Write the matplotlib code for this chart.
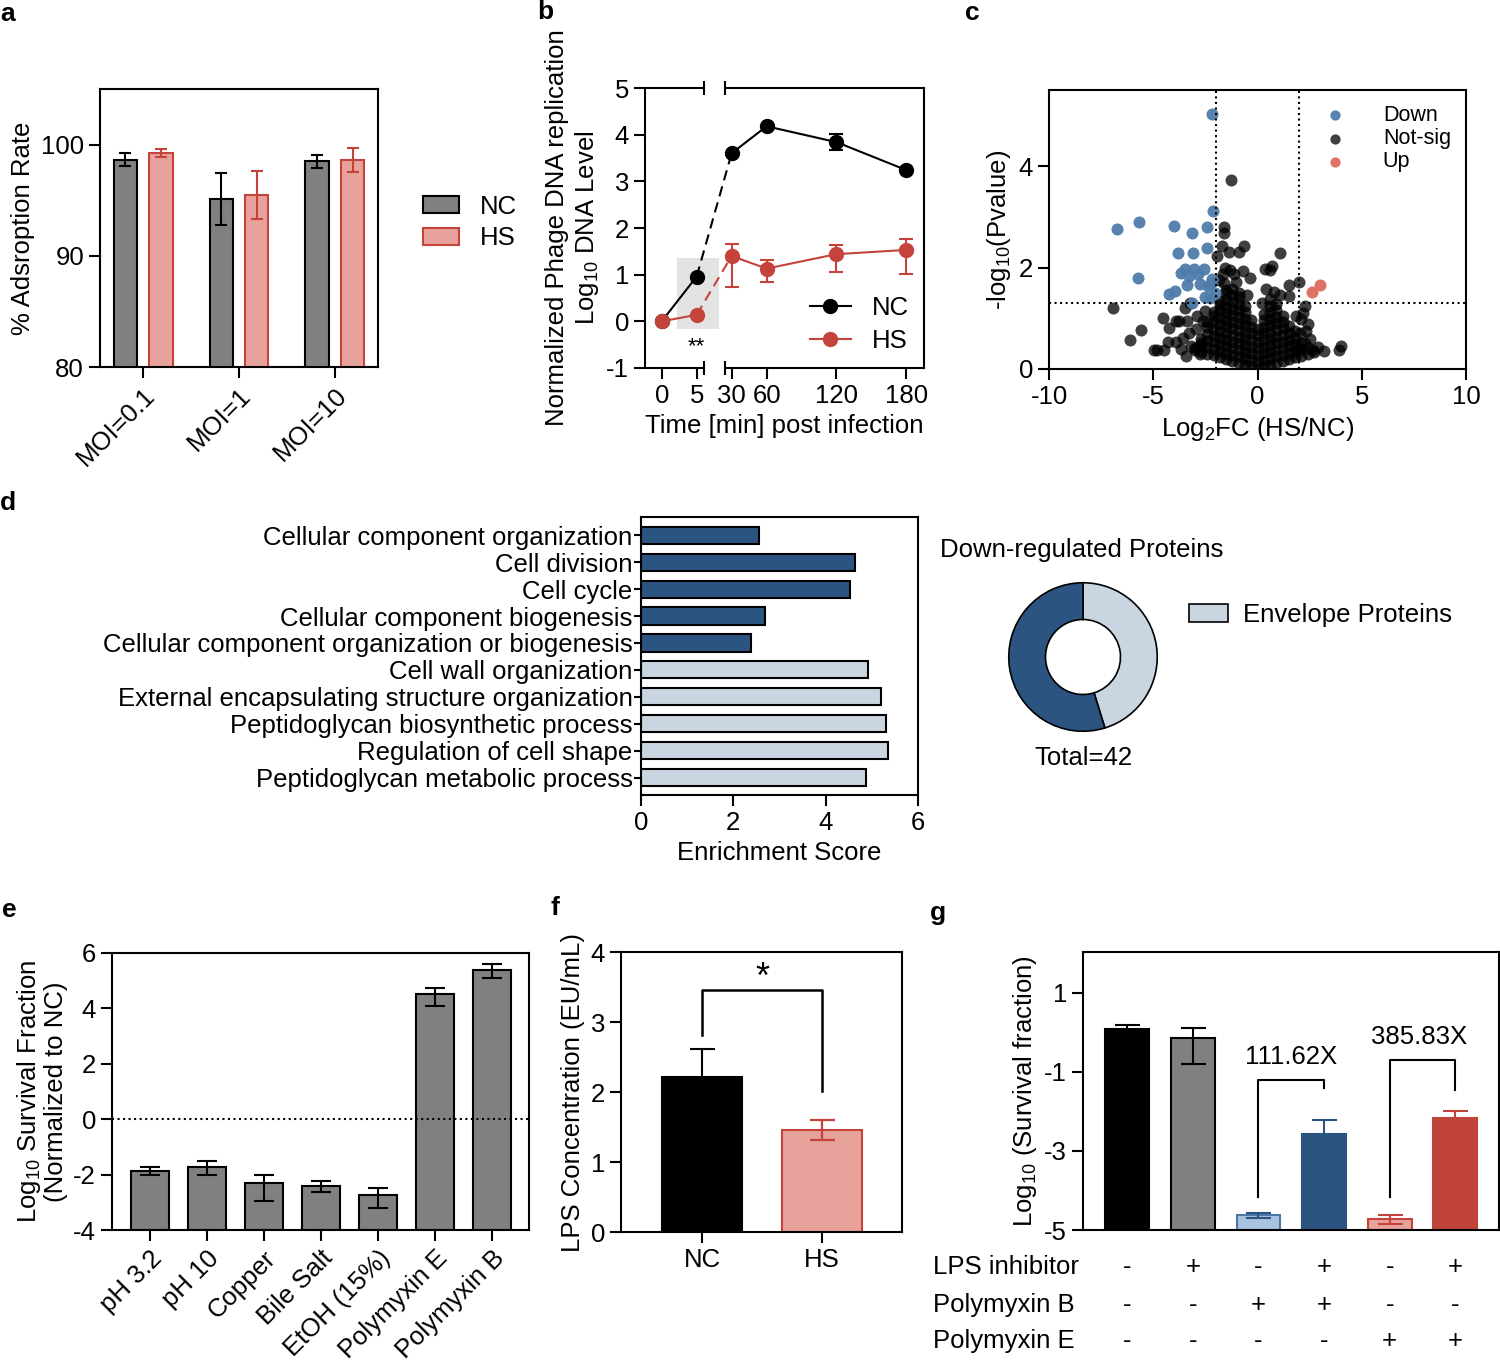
import numpy as np
import matplotlib
matplotlib.use("Agg")
import matplotlib.pyplot as plt
from matplotlib.patches import Rectangle, Patch
from matplotlib.lines import Line2D
from matplotlib.transforms import blended_transform_factory

plt.rcParams['font.family'] = ['Liberation Sans', 'DejaVu Sans']
plt.rcParams['mathtext.fontset'] = 'custom'
plt.rcParams['mathtext.rm'] = 'Liberation Sans'
plt.rcParams['mathtext.it'] = 'Liberation Sans:italic'
plt.rcParams['mathtext.default'] = 'regular'
plt.rcParams['axes.unicode_minus'] = False
plt.rcParams['font.size'] = 18.5
plt.rcParams['axes.linewidth'] = 1.5
plt.rcParams['xtick.major.width'] = 1.5
plt.rcParams['ytick.major.width'] = 1.5

GRAY = '#808080'
PINK = '#e7a29b'
RED = '#c4433a'
DBLUE = '#2b5580'
LBLUE = '#c9d6e2'

# ---- data ----
# a
moi = ['MOI=0.1', 'MOI=1', 'MOI=10']
a_nc = [98.64, 95.09, 98.49]
a_nc_err = [0.6, 2.35, 0.55]
a_hs = [99.25, 95.48, 98.6]
a_hs_err = [0.33, 2.14, 1.08]

# b
b_t = [0, 5, 30, 60, 120, 180]
b_nc = [0, 0.96, 3.6, 4.18, 3.84, 3.24]
b_nc_err = [0, 0, 0, 0, 0.17, 0]
b_hs = [0, 0.14, 1.4, 1.13, 1.44, 1.53]
b_hs_lo = [0, 0, 0.67, 0.29, 0.38, 0.51]
b_hs_hi = [0, 0, 0.25, 0.19, 0.19, 0.23]

# c
down_x = [-2.2, -2.15, -6.74, -5.70, -4.02, -3.16, -2.43, -2.40, -3.83, -3.07,
          -5.72, -3.67, -3.50, -3.05, -2.55, -3.27, -2.86, -2.20, -2.25, -3.38,
          -2.78, -2.36, -3.97, -4.26, -2.03, -2.50, -2.28, -3.16]
down_y = [5.02, 3.11, 2.76, 2.90, 2.81, 2.69, 2.79, 2.38, 2.28, 2.28,
          1.80, 1.89, 1.98, 1.98, 1.98, 1.83, 1.87, 1.78, 1.70, 1.65,
          1.67, 1.64, 1.54, 1.47, 1.50, 1.42, 1.39, 1.31]
up_x = [2.63, 2.98]
up_y = [1.52, 1.65]
# dense core of the volcano, read column by column
core_x = [-3.0,
          -2.7, -2.7, -2.7,
          -2.4, -2.4, -2.4, -2.4, -2.4, -2.4,
          -2.1, -2.1, -2.1, -2.1, -2.1, -2.1, -2.1, -2.1,
          -1.8, -1.8, -1.8, -1.8, -1.8, -1.8, -1.8, -1.8, -1.8, -1.8,
          -1.5, -1.5, -1.5, -1.5, -1.5, -1.5, -1.5, -1.5, -1.5, -1.5, -1.5, -1.5,
          -1.2, -1.2, -1.2, -1.2, -1.2, -1.2, -1.2, -1.2, -1.2, -1.2, -1.2, -1.2,
          -0.9, -0.9, -0.9, -0.9, -0.9, -0.9, -0.9, -0.9, -0.9, -0.9, -0.9, -0.9,
          -0.6, -0.6, -0.6, -0.6, -0.6, -0.6, -0.6, -0.6, -0.6, -0.6,
          -0.3, -0.3, -0.3, -0.3, -0.3, -0.3, -0.3, -0.3,
          0.0, 0.0, 0.0, 0.0, 0.0, 0.0, 0.0,
          0.3, 0.3, 0.3, 0.3, 0.3, 0.3, 0.3, 0.3, 0.3,
          0.6, 0.6, 0.6, 0.6, 0.6, 0.6, 0.6, 0.6, 0.6, 0.6, 0.6,
          0.9, 0.9, 0.9, 0.9, 0.9, 0.9, 0.9, 0.9, 0.9, 0.9,
          1.2, 1.2, 1.2, 1.2, 1.2, 1.2, 1.2, 1.2,
          1.5, 1.5, 1.5, 1.5, 1.5, 1.5,
          1.8, 1.8, 1.8, 1.8, 1.8,
          2.1, 2.1, 2.1,
          2.4, 2.4,
          2.7]
core_y = [0.42,
          0.34, 0.47, 0.6,
          0.3, 0.43, 0.56, 0.69, 0.82, 0.92,
          0.27, 0.4, 0.53, 0.66, 0.79, 0.92, 1.05, 1.13,
          0.23, 0.36, 0.49, 0.62, 0.75, 0.88, 1.01, 1.14, 1.27, 1.35,
          0.19, 0.32, 0.45, 0.58, 0.71, 0.84, 0.97, 1.1, 1.23, 1.36, 1.49, 1.56,
          0.15, 0.28, 0.41, 0.54, 0.67, 0.8, 0.93, 1.06, 1.19, 1.32, 1.45, 1.58,
          0.12, 0.25, 0.38, 0.51, 0.64, 0.77, 0.9, 1.03, 1.16, 1.29, 1.42, 1.5,
          0.08, 0.21, 0.34, 0.47, 0.6, 0.73, 0.86, 0.99, 1.12, 1.25,
          0.05, 0.18, 0.31, 0.44, 0.57, 0.7, 0.83, 0.96,
          0.02, 0.15, 0.28, 0.41, 0.54, 0.67, 0.78,
          0.05, 0.18, 0.31, 0.44, 0.57, 0.7, 0.83, 0.96, 1.09,
          0.08, 0.21, 0.34, 0.47, 0.6, 0.73, 0.86, 0.99, 1.12, 1.25, 1.38,
          0.12, 0.25, 0.38, 0.51, 0.64, 0.77, 0.9, 1.03, 1.16, 1.28,
          0.15, 0.28, 0.41, 0.54, 0.67, 0.8, 0.93, 1.04,
          0.19, 0.32, 0.45, 0.58, 0.71, 0.84,
          0.23, 0.36, 0.49, 0.62, 0.74,
          0.26, 0.39, 0.52,
          0.3, 0.42,
          0.33]
# scattered not-significant points around the core
ns_x = [-1.29, -1.6, -1.6, -1.7, -1.95, -1.37, -0.91, -0.63, -1.54, -1.3,
        -1.65, -1.12, -0.68, -0.38, -1.62, -1.85, -1.05, -0.5,
        1.07, 0.69, 0.36, 0.61, 1.49, 1.98, 1.52, 0.40, 0.78, 2.26,
        2.1, 2.43, 2.02, 2.26, 2.89, 3.17, 2.68, 4.0, 3.92, 2.2, 2.5,
        1.85, 2.35, 1.1, 0.2, 2.0,
        -6.94, -4.55, -5.57, -6.12, -4.98, -4.81, -4.48, -4.31, -4.23, -3.9,
        -3.9, -3.65, -3.57, -3.4, -3.5, -3.22, -2.93, -3.0, -2.7, -3.3, -3.75,
        -2.6, -3.2, -2.9, -2.5, -3.45, -2.75]
ns_y = [3.73, 2.80, 2.68, 2.43, 2.22, 2.30, 2.31, 2.42, 2.00, 1.95,
        1.87, 1.87, 1.93, 1.80, 1.70, 1.75, 1.72, 1.45,
        2.28, 2.03, 1.97, 1.95, 1.65, 1.72, 1.44, 1.57, 1.52, 1.24,
        0.98, 0.88, 0.71, 0.51, 0.44, 0.35, 0.38, 0.45, 0.37, 1.1, 0.6,
        1.05, 0.75, 1.45, 1.3, 0.4,
        1.21, 1.0, 0.76, 0.57, 0.38, 0.38, 0.38, 0.53, 0.81, 0.94,
        0.53, 0.40, 0.61, 0.94, 1.21, 1.31, 0.78, 0.38, 0.51, 0.7, 0.95,
        0.95, 0.45, 1.05, 1.15, 0.25, 0.3]

# d
go_terms = ['Cellular component organization', 'Cell division', 'Cell cycle',
            'Cellular component biogenesis',
            'Cellular component organization or biogenesis',
            'Cell wall organization',
            'External encapsulating structure organization',
            'Peptidoglycan biosynthetic process', 'Regulation of cell shape',
            'Peptidoglycan metabolic process']
go_scores = [2.55, 4.63, 4.52, 2.69, 2.39, 4.92, 5.2, 5.31, 5.35, 4.88]
go_envelope = [False] * 5 + [True] * 5
donut_counts = [19, 23]  # envelope, other

# e
stress = ['pH 3.2', 'pH 10', 'Copper', 'Bile Salt', 'EtOH (15%)',
          'Polymyxin E', 'Polymyxin B']
e_vals = [-1.86, -1.72, -2.30, -2.42, -2.74, 4.51, 5.40]
e_lo = [0.15, 0.28, 0.64, 0.2, 0.46, 0.42, 0.29]
e_hi = [0.15, 0.22, 0.27, 0.18, 0.24, 0.24, 0.19]

# f
f_groups = ['NC', 'HS']
f_vals = [2.21, 1.46]
f_err = [0.41, 0.14]

# g
g_vals = [0.08, -0.14, -4.63, -2.58, -4.73, -2.18]
g_lo = [0.1, 0.67, 0.07, 0.36, 0.13, 0.2]
g_hi = [0.1, 0.25, 0.07, 0.36, 0.12, 0.2]
g_rows = ['LPS inhibitor', 'Polymyxin B', 'Polymyxin E']
g_lps = ['-', '+', '-', '+', '-', '+']
g_pmb = ['-', '-', '+', '+', '-', '-']
g_pme = ['-', '-', '-', '-', '+', '+']

W, H = 1500, 1366
fig = plt.figure(figsize=(15, 13.66), dpi=100)


def box(l, t, r, b):
    return fig.add_axes([l / W, 1 - b / H, (r - l) / W, (b - t) / H])


def prism(ax):
    ax.tick_params(direction='out', top=False, right=False, length=8)


ekw = dict(elinewidth=1.5, capthick=1.5)

for lab, px, py in [('a', 8, 14), ('b', 545, 12), ('c', 972, 13),
                    ('d', 8, 503), ('e', 9, 910), ('f', 555, 908), ('g', 938, 913)]:
    fig.text(px / W, 1 - py / H, lab, fontsize=19, fontweight='bold',
             ha='center', va='center')

# ---- a ----
ax = box(100, 89, 378, 367)
xa = np.arange(3)
ax.bar(xa - 0.185, a_nc, 0.243, yerr=a_nc_err, color=GRAY, edgecolor='black',
       lw=1.5, capsize=4.5, error_kw=dict(ecolor='black', **ekw), label='NC')
ax.bar(xa + 0.185, a_hs, 0.243, yerr=a_hs_err, color=PINK, edgecolor=RED,
       lw=1.5, capsize=4.5, error_kw=dict(ecolor=RED, **ekw), label='HS')
ax.set_xlim(-0.451, 2.451)
ax.set_ylim(80, 105)
ax.set_yticks([80, 90, 100])
ax.set_xticks(xa)
ax.set_xticklabels(moi, rotation=45, ha='right', rotation_mode='anchor')
ax.set_ylabel('% Adsroption Rate')
prism(ax)
ax.legend(loc='center left', bbox_to_anchor=(1.08, 0.52), frameon=False,
          handlelength=1.4, handleheight=0.65, handletextpad=0.8,
          labelspacing=0.3)


# ---- b ----
def fwd(t):
    return np.interp(t, [-50, 5, 30, 400], [-350, 35, 70, 70 + 370 * 35 / 30])


def inv(p):
    return np.interp(p, [-350, 35, 70, 70 + 370 * 35 / 30], [-50, 5, 30, 400])


ax = box(645, 88, 924, 368)
ax.set_xscale('function', functions=(fwd, inv))
ax.set_xlim(-2.39, 195.1)
ax.set_ylim(-1, 5)
ax.add_patch(Rectangle((2.14, -0.16), 21.1 - 2.14, 1.51, color='#e3e3e3',
                       zorder=0, lw=0))
for vals, col in [(b_nc, 'black'), (b_hs, RED)]:
    ax.plot(b_t[:2], vals[:2], color=col, lw=1.5)
    ax.plot(b_t[1:3], vals[1:3], color=col, lw=1.5, ls=(0, (5, 3)))
    ax.plot(b_t[2:], vals[2:], color=col, lw=1.5)
ax.errorbar(b_t, b_nc, yerr=b_nc_err, fmt='o', ms=10, color='black',
            capsize=5, **ekw)
ax.errorbar(b_t, b_hs, yerr=[b_hs_lo, b_hs_hi], fmt='o', ms=10, color=RED,
            capsize=5, **ekw)
ax.text(5, -0.55, '**', ha='center', va='center', fontsize=16)
ax.set_xticks(b_t)
ax.set_xticklabels([str(v) for v in b_t])
ax.minorticks_off()
ax.set_yticks(range(-1, 6))
ax.set_xlabel('Time [min] post infection')
ax.set_ylabel('Normalized Phage DNA replication\nLog$_{10}$ DNA Level',
              linespacing=1.15)
prism(ax)
ax.spines['top'].set_visible(False)
ax.spines['bottom'].set_visible(False)
tr = ax.get_xaxis_transform()
for yy in (0, 1):
    ax.plot([-2.39, 10.4], [yy, yy], transform=tr, color='k', lw=1.5,
            clip_on=False, solid_capstyle='butt')
    ax.plot([25.2, 195.1], [yy, yy], transform=tr, color='k', lw=1.5,
            clip_on=False, solid_capstyle='butt')
    ax.plot([10.4, 25.2], [yy, yy], transform=tr, ls='none', marker='|',
            ms=10, mew=1.5, color='k', clip_on=False)
hnd = [Line2D([], [], color='k', marker='o', ms=10, lw=1.5),
       Line2D([], [], color=RED, marker='o', ms=10, lw=1.5)]
ax.legend(hnd, ['NC', 'HS'], loc='lower right', frameon=False,
          handlelength=1.6, borderaxespad=0.2, labelspacing=0.35)

# ---- c ----
ax = box(1049, 90, 1466, 369)
ax.scatter(core_x, core_y, s=75, color='black', alpha=0.78, lw=0)
ax.scatter(ns_x, ns_y, s=75, color='black', alpha=0.75, lw=0, label='Not-sig')
ax.scatter(down_x, down_y, s=75, color='#4f7cab', alpha=0.95, lw=0,
           label='Down')
ax.scatter(up_x, up_y, s=75, color='#e07265', lw=0, label='Up')
for v in (-2, 2):
    ax.axvline(v, color='k', ls=':', lw=1.5)
ax.axhline(1.301, color='k', ls=':', lw=1.5)
ax.set_xlim(-10, 10)
ax.set_ylim(0, 5.5)
ax.set_xticks([-10, -5, 0, 5, 10])
ax.set_yticks([0, 2, 4])
ax.set_xlabel('Log$_2$FC (HS/NC)')
ax.set_ylabel('-log$_{10}$(Pvalue)')
prism(ax)
hh, ll = ax.get_legend_handles_labels()
order = [1, 0, 2]
ax.legend([hh[i] for i in order], [ll[i] for i in order], loc='upper right',
          frameon=False, handletextpad=1.2, fontsize=15.5, labelspacing=0.1,
          borderaxespad=0.3, markerscale=0.85)

# ---- d ----
ax = box(641, 517, 918, 795)
yd = np.arange(len(go_terms))
ax.barh(yd, go_scores, 0.64,
        color=[LBLUE if e else DBLUE for e in go_envelope],
        edgecolor='black', lw=1.5)
ax.set_ylim(9.65, -0.68)
ax.set_xlim(0, 6)
ax.set_yticks(yd)
ax.set_yticklabels(go_terms)
ax.set_xticks([0, 2, 4, 6])
ax.set_xlabel('Enrichment Score')
prism(ax)
ax.tick_params(axis='y', length=5, pad=1)

# donut
axp = box(1083 - 75, 657 - 75, 1083 + 75, 657 + 75)
axp.pie(donut_counts, colors=[LBLUE, DBLUE], startangle=90, counterclock=False,
        radius=0.99, wedgeprops=dict(width=0.49, edgecolor='black', lw=1.2))
axp.set_xlim(-1, 1)
axp.set_ylim(-1, 1)
axp.set_aspect('auto')
axp.axis('off')
fig.text(940 / W, 1 - 550 / H, 'Down-regulated Proteins', ha='left',
         va='center')
fig.text(1083 / W, 1 - 758 / H, 'Total=%d' % sum(donut_counts), ha='center',
         va='center')
fig.legend([Patch(fc=LBLUE, ec='black', lw=1.2)], ['Envelope Proteins'],
           loc='center left', bbox_to_anchor=(1166 / W, 1 - 615 / H),
           frameon=False, handlelength=1.5, handleheight=0.7,
           handletextpad=0.6)

# ---- e ----
ax = box(112, 953, 529, 1230)
xe = np.arange(len(stress))
ax.bar(xe, np.array(e_vals) + 4, 0.667, bottom=-4, yerr=[e_lo, e_hi],
       color=GRAY, edgecolor='black', lw=1.5, capsize=7,
       error_kw=dict(ecolor='black', **ekw))
ax.axhline(0, color='black', ls=':', lw=1.5)
ax.set_xlim(-0.667, 6.655)
ax.set_ylim(-4, 6)
ax.set_yticks(range(-4, 7, 2))
ax.set_xticks(xe)
ax.set_xticklabels(stress, rotation=45, ha='right', rotation_mode='anchor')
ax.set_ylabel('Log$_{10}$ Survival Fraction\n(Normalized to NC)',
              linespacing=1.05)
prism(ax)

# ---- f ----
ax = box(621, 952, 902, 1232)
xf = np.arange(2)
ax.bar(xf, f_vals, 0.67, yerr=f_err, color=['black', PINK],
       edgecolor=['black', RED], lw=1.5, capsize=9,
       error_kw=dict(ecolor='black', **ekw))
ax.errorbar([1], [f_vals[1]], yerr=[f_err[1]], fmt='none', ecolor=RED,
            capsize=9, **ekw)
ax.plot([0, 0, 1, 1], [2.82, 3.46, 3.46, 2.02], color='black', lw=1.8)
ax.text(0.5, 3.62, '*', ha='center', va='center', fontsize=26)
ax.set_xlim(-0.677, 1.667)
ax.set_ylim(0, 4)
ax.set_yticks(range(5))
ax.set_xticks(xf)
ax.set_xticklabels(f_groups)
ax.set_ylabel('LPS Concentration (EU/mL)')
prism(ax)

# ---- g ----
ax = box(1083, 952, 1499, 1230)
xg = np.arange(6)
g_fc = ['black', GRAY, '#a9c3df', DBLUE, PINK, '#c0443a']
g_ec = ['black', 'black', '#4a78a8', DBLUE, RED, '#c0443a']
g_err = ['black', 'black', DBLUE, DBLUE, RED, RED]
for i in xg:
    ax.bar(i, g_vals[i] + 5, 0.665, bottom=-5, color=g_fc[i],
           edgecolor=g_ec[i], lw=1.5)
    ax.errorbar(i, g_vals[i], yerr=[[g_lo[i]], [g_hi[i]]], fmt='none',
                ecolor=g_err[i], capsize=9, **ekw)
ax.plot([2, 2, 3, 3], [-4.16, -1.21, -1.21, -1.42], color='black', lw=1.5)
ax.plot([4, 4, 5, 5], [-4.16, -0.69, -0.69, -1.45], color='black', lw=1.5)
ax.text(2.5, -0.62, '111.62X', ha='center', va='center')
ax.text(4.45, -0.11, '385.83X', ha='center', va='center')
ax.set_xlim(-0.674, 5.666)
ax.set_ylim(-5, 2.03)
ax.set_yticks([1, -1, -3, -5])
ax.set_xticks([])
ax.set_ylabel('Log$_{10}$ (Survival fraction)')
prism(ax)
btr = blended_transform_factory(ax.transData, ax.transAxes)
for row, signs, ya in zip(g_rows, [g_lps, g_pmb, g_pme], [-0.133, -0.27, -0.40]):
    fig.text(933 / W, 1 - (1230 - ya * 278) / H, row, ha='left', va='center')
    for i, s in enumerate(signs):
        ax.text(i, ya, s, transform=btr, ha='center', va='center')

fig.savefig('out.png', dpi=100)
